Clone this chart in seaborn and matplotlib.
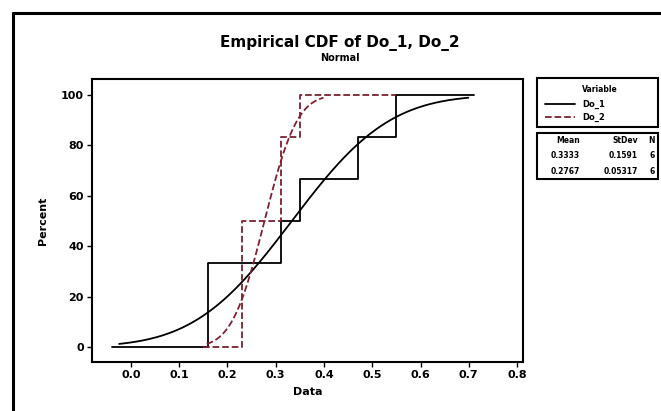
import math
import numpy as np
import pandas as pd
import matplotlib.pyplot as plt
from matplotlib.lines import Line2D
from matplotlib.patches import Rectangle
import seaborn as sns

sns.set_style("white")
plt.rcParams['font.family'] = ['DejaVu Sans']
plt.rcParams['font.weight'] = 'bold'
plt.rcParams['text.color'] = 'black'
plt.rcParams['axes.labelcolor'] = 'black'
plt.rcParams['xtick.color'] = 'black'
plt.rcParams['ytick.color'] = 'black'

# data
variables = ["Do_1", "Do_2"]
do_1 = [0.16, 0.16, 0.31, 0.35, 0.47, 0.55]
do_2 = [0.23, 0.23, 0.23, 0.31, 0.31, 0.35]
step_lo = [-0.04, 0.15]
step_hi = [0.71, 0.55]
colors = ["black", "#7a2230"]
styles = ["-", "--"]
x_ticks = [0.0, 0.1, 0.2, 0.3, 0.4, 0.5, 0.6, 0.7, 0.8]
y_ticks = [0, 20, 40, 60, 80, 100]

W, H = 661, 411


def fx(px):
    return px / W


def fy(py):
    return 1 - py / H


fig = plt.figure(figsize=(W / 100, H / 100), dpi=100)
ax = fig.add_axes([fx(92), fy(362), fx(523) - fx(92), fy(79) - fy(362)])

erf = np.vectorize(math.erf)
stats = []
for name, vals, lo, hi, c, ls in zip(variables, [do_1, do_2], step_lo, step_hi, colors, styles):
    vals = np.array(vals)
    m = vals.mean()
    s = vals.std(ddof=1)
    stats.append((m, s, len(vals)))

    xs, counts = np.unique(vals, return_counts=True)
    cum = np.cumsum(counts) / len(vals) * 100
    step = pd.DataFrame({"x": [lo] + list(xs) + [hi], "y": [0] + list(cum) + [100]})
    sns.lineplot(data=step, x="x", y="y", drawstyle="steps-post", estimator=None,
                 sort=False, color=c, linestyle=ls, lw=1.3, ax=ax)

    cx = np.linspace(m - 2.25 * s, m + 2.3 * s, 200)
    cy = 50 * (1 + erf((cx - m) / (s * math.sqrt(2))))
    sns.lineplot(x=cx, y=cy, estimator=None, sort=False, color=c, linestyle=ls, lw=1.3, ax=ax)

ax.set_xlim(-0.0808, 0.8124)
ax.set_ylim(-5.95, 106.35)
ax.set_xticks(x_ticks)
ax.set_yticks(y_ticks)
ax.set_xticklabels([f"{t:.1f}" for t in x_ticks])
ax.tick_params(bottom=True, left=True, direction="out", length=3.5, width=1,
               color="black", labelsize=8, pad=2.5)
for sp in ax.spines.values():
    sp.set_color("black")
    sp.set_linewidth(1.5)
ax.set_xlabel("Data", fontsize=8, fontweight="bold", labelpad=5)
ax.set_ylabel("Percent", fontsize=8, fontweight="bold", labelpad=9)

# titles
fig.text(fx(340), fy(43), "Empirical CDF of Do_1, Do_2", ha="center", va="center",
         fontsize=11, fontweight="bold")
fig.text(fx(340), fy(58), "Normal", ha="center", va="center", fontsize=7, fontweight="bold")

# legend box
fig.add_artist(Rectangle((fx(537), fy(127)), fx(658) - fx(537), fy(78) - fy(127),
                         fill=False, lw=1.5, ec="black", transform=fig.transFigure))
fig.text(fx(582), fy(90), "Variable", ha="left", va="center", fontsize=5.5, fontweight="bold")
for i, (name, c, ls) in enumerate(zip(variables, colors, styles)):
    yy = fy(104 + 13 * i)
    fig.add_artist(Line2D([fx(545), fx(575)], [yy, yy], color=c, linestyle=ls, lw=1.3,
                          transform=fig.transFigure))
    fig.text(fx(582), yy, name, ha="left", va="center", fontsize=6, fontweight="bold")

# stats box
fig.add_artist(Rectangle((fx(537), fy(179)), fx(658) - fx(537), fy(133) - fy(179),
                         fill=False, lw=1.5, ec="black", transform=fig.transFigure))
cols = [580, 638, 655]
for txt, px in zip(["Mean", "StDev", "N"], cols):
    fig.text(fx(px), fy(140), txt, ha="right", va="center", fontsize=5.5, fontweight="bold")
for i, (m, s, n) in enumerate(stats):
    yy = fy(156 + 16 * i)
    for txt, px in zip([f"{m:.4f}", f"{s:.4g}", f"{n}"], cols):
        fig.text(fx(px), yy, txt, ha="right", va="center", fontsize=5.5, fontweight="bold")

# outer frame
fig.add_artist(Line2D([fx(13), fx(13)], [0, fy(13)], color="black", lw=2.2, transform=fig.transFigure))
fig.add_artist(Line2D([fx(13), 1], [fy(13), fy(13)], color="black", lw=2.2, transform=fig.transFigure))

fig.savefig("out.png", dpi=100)
